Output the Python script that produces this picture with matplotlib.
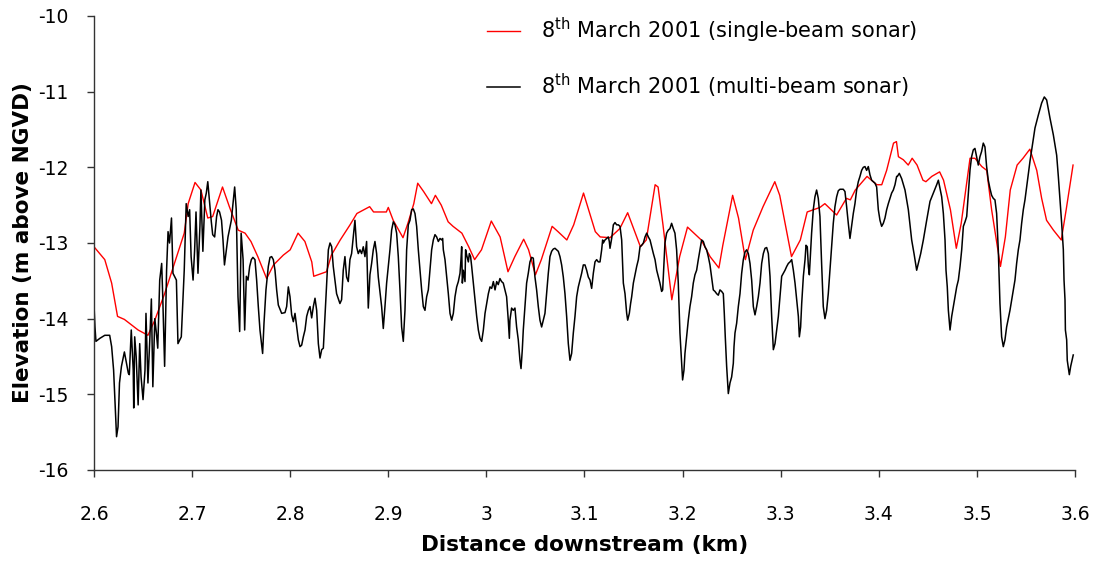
# perfil do leito: sonar de feixe simples vs multifeixe (8 marco 2001)
import matplotlib
matplotlib.use("Agg")
import matplotlib.pyplot as plt
from matplotlib.ticker import MultipleLocator, FormatStrFormatter

plt.rcParams["axes.unicode_minus"] = False
plt.rcParams["font.family"] = "DejaVu Sans"

# sonar de feixe simples (km, m acima do NGVD)
sb_km = [2.600, 2.611, 2.618, 2.624, 2.631, 2.645, 2.655, 2.662, 2.672, 2.682,
         2.692, 2.696, 2.703, 2.709, 2.716, 2.721, 2.731, 2.738, 2.747, 2.754,
         2.760, 2.767, 2.776, 2.783, 2.793, 2.800, 2.808, 2.815, 2.822, 2.824,
         2.837, 2.842, 2.851, 2.861, 2.868, 2.881, 2.885, 2.898, 2.900, 2.905,
         2.915, 2.920, 2.926, 2.930, 2.936, 2.944, 2.948, 2.954, 2.961, 2.966,
         2.975, 2.982, 2.988, 2.995, 3.005, 3.014, 3.022, 3.029, 3.038, 3.043,
         3.050, 3.056, 3.067, 3.073, 3.082, 3.089, 3.099, 3.111, 3.116, 3.126,
         3.136, 3.144, 3.157, 3.163, 3.172, 3.175, 3.180, 3.189, 3.197, 3.205,
         3.219, 3.228, 3.237, 3.241, 3.251, 3.257, 3.264, 3.272, 3.282, 3.294,
         3.299, 3.311, 3.320, 3.327, 3.340, 3.345, 3.357, 3.367, 3.371, 3.376,
         3.388, 3.398, 3.403, 3.408, 3.415, 3.418, 3.420, 3.425, 3.430, 3.434,
         3.439, 3.445, 3.448, 3.454, 3.462, 3.466, 3.473, 3.479, 3.484, 3.493,
         3.498, 3.505, 3.510, 3.515, 3.524, 3.529, 3.534, 3.541, 3.547, 3.554,
         3.561, 3.566, 3.571, 3.578, 3.586, 3.591, 3.598]
sb_elev = [-13.05, -13.22, -13.53, -13.97, -14.01, -14.15, -14.22, -14.02, -13.67, -13.27,
           -12.87, -12.48, -12.20, -12.30, -12.67, -12.65, -12.26, -12.52, -12.83, -12.87,
           -12.98, -13.18, -13.47, -13.29, -13.16, -13.09, -12.87, -12.98, -13.25, -13.44,
           -13.38, -13.16, -12.96, -12.76, -12.61, -12.52, -12.59, -12.59, -12.53, -12.70,
           -12.93, -12.74, -12.48, -12.21, -12.32, -12.48, -12.37, -12.50, -12.72, -12.78,
           -12.87, -13.05, -13.22, -13.09, -12.71, -12.92, -13.38, -13.18, -12.95, -13.09,
           -13.42, -13.22, -12.78, -12.85, -12.96, -12.76, -12.34, -12.85, -12.92, -12.93,
           -12.81, -12.60, -13.05, -12.96, -12.23, -12.26, -12.76, -13.75, -13.18, -12.79,
           -12.96, -13.18, -13.33, -13.03, -12.37, -12.67, -13.22, -12.83, -12.52, -12.19,
           -12.37, -13.18, -12.96, -12.59, -12.53, -12.48, -12.63, -12.41, -12.43, -12.30,
           -12.12, -12.23, -12.23, -12.04, -11.68, -11.66, -11.86, -11.90, -11.97, -11.88,
           -11.97, -12.17, -12.19, -12.12, -12.06, -12.17, -12.56, -13.07, -12.74, -11.88,
           -11.88, -11.99, -12.04, -12.56, -13.31, -12.92, -12.30, -11.97, -11.88, -11.76,
           -12.04, -12.41, -12.70, -12.83, -12.96, -12.56, -11.97]

# sonar multifeixe
mb_km = [2.6000, 2.6010, 2.6020, 2.6060, 2.6110, 2.6160, 2.6180, 2.6200, 2.6230, 2.6245,
         2.6260, 2.6280, 2.6310, 2.6350, 2.6360, 2.6380, 2.6400, 2.6405, 2.6415, 2.6430,
         2.6450, 2.6466, 2.6480, 2.6500, 2.6520, 2.6530, 2.6550, 2.6570, 2.6585, 2.6600,
         2.6620, 2.6636, 2.6650, 2.6670, 2.6690, 2.6700, 2.6720, 2.6740, 2.6755, 2.6770,
         2.6790, 2.6805, 2.6840, 2.6856, 2.6890, 2.6920, 2.6940, 2.6960, 2.6975, 2.6990,
         2.7010, 2.7026, 2.7040, 2.7060, 2.7080, 2.7090, 2.7110, 2.7130, 2.7145, 2.7160,
         2.7180, 2.7196, 2.7210, 2.7230, 2.7250, 2.7264, 2.7280, 2.7300, 2.7315, 2.7330,
         2.7350, 2.7366, 2.7400, 2.7434, 2.7450, 2.7468, 2.7485, 2.7500, 2.7520, 2.7536,
         2.7553, 2.7570, 2.7587, 2.7604, 2.7620,
         2.7641, 2.7658, 2.7675, 2.7692, 2.7719, 2.7733, 2.7753, 2.7777, 2.7794, 2.7811,
         2.7828, 2.7845, 2.7862, 2.7879, 2.7913, 2.7947, 2.7964, 2.7981, 2.7998, 2.8015,
         2.8032, 2.8049, 2.8066, 2.8083, 2.8100, 2.8117, 2.8134, 2.8151, 2.8168, 2.8185,
         2.8202, 2.8219, 2.8236, 2.8253, 2.8270, 2.8287, 2.8304, 2.8321, 2.8338, 2.8355,
         2.8372, 2.8389, 2.8406, 2.8423, 2.8439, 2.8473, 2.8507, 2.8524, 2.8541, 2.8558,
         2.8575, 2.8592, 2.8609, 2.8626, 2.8643, 2.8660, 2.8677, 2.8694, 2.8711, 2.8728,
         2.8745, 2.8762, 2.8779, 2.8796, 2.8813, 2.8830, 2.8847, 2.8864, 2.8881, 2.8898,
         2.8915, 2.8932, 2.8949, 2.8966, 2.8983, 2.9000, 2.9017, 2.9034, 2.9051, 2.9068,
         2.9085, 2.9102, 2.9119, 2.9136, 2.9153, 2.9170, 2.9187, 2.9204, 2.9221,
         2.9238, 2.9255, 2.9272, 2.9289, 2.9306, 2.9323, 2.9340, 2.9357, 2.9374, 2.9391,
         2.9408, 2.9425, 2.9442, 2.9459, 2.9476, 2.9493, 2.9510, 2.9527, 2.9544, 2.9554,
         2.9561, 2.9578, 2.9595, 2.9612, 2.9629, 2.9646, 2.9663, 2.9680, 2.9697, 2.9714,
         2.9731, 2.9741, 2.9748, 2.9755, 2.9765, 2.9782, 2.9788, 2.9799, 2.9816, 2.9826,
         2.9839, 2.9850, 2.9867, 2.9884, 2.9901, 2.9918, 2.9935, 2.9952, 2.9969, 2.9986,
         3.0003, 3.0020, 3.0037, 3.0054, 3.0071, 3.0088, 3.0105, 3.0121, 3.0138, 3.0155,
         3.0172, 3.0189, 3.0206, 3.0223, 3.0234, 3.0240, 3.0257, 3.0274, 3.0291, 3.0308,
         3.0325, 3.0342, 3.0353, 3.0366, 3.0376, 3.0393, 3.0410, 3.0427, 3.0444, 3.0461,
         3.0478, 3.0495, 3.0512, 3.0529, 3.0546, 3.0563, 3.0580, 3.0597, 3.0614, 3.0631,
         3.0648, 3.0665, 3.0682, 3.0699, 3.0716, 3.0733, 3.0750, 3.0767, 3.0784, 3.0801,
         3.0818, 3.0835, 3.0852, 3.0869, 3.0886, 3.0903, 3.0920, 3.0937, 3.0954,
         3.0971, 3.0988, 3.1005, 3.1022, 3.1039, 3.1056, 3.1073, 3.1090, 3.1107, 3.1124,
         3.1141, 3.1158, 3.1175, 3.1185, 3.1192, 3.1209, 3.1226, 3.1243, 3.1253, 3.1260,
         3.1277, 3.1294, 3.1311, 3.1328, 3.1345, 3.1362, 3.1379, 3.1389, 3.1396, 3.1413,
         3.1430, 3.1440, 3.1457, 3.1470, 3.1481, 3.1498, 3.1515, 3.1532, 3.1549, 3.1566,
         3.1583, 3.1600, 3.1617, 3.1634, 3.1651, 3.1668, 3.1685, 3.1702, 3.1719, 3.1736,
         3.1753, 3.1769, 3.1786, 3.1797, 3.1803, 3.1820, 3.1837, 3.1854, 3.1871, 3.1888,
         3.1905, 3.1922, 3.1939, 3.1956, 3.1973, 3.1990, 3.2000, 3.2014, 3.2024, 3.2041,
         3.2058, 3.2075, 3.2092, 3.2109, 3.2126, 3.2143, 3.2160, 3.2177, 3.2194, 3.2211,
         3.2228, 3.2245, 3.2262, 3.2279, 3.2296, 3.2313, 3.2330, 3.2347, 3.2364, 3.2381,
         3.2398, 3.2415, 3.2425, 3.2435, 3.2449, 3.2466, 3.2483, 3.2500, 3.2517, 3.2524,
         3.2534, 3.2551, 3.2568, 3.2585,
         3.2602, 3.2619, 3.2636, 3.2653, 3.2670, 3.2687, 3.2704, 3.2721, 3.2738, 3.2755,
         3.2772, 3.2789, 3.2806, 3.2823, 3.2840, 3.2857, 3.2874, 3.2891, 3.2908, 3.2925,
         3.2942, 3.2959, 3.2976, 3.2993, 3.3010, 3.3027, 3.3044, 3.3061, 3.3078, 3.3095,
         3.3112, 3.3129, 3.3146, 3.3163, 3.3180, 3.3190, 3.3203, 3.3214, 3.3231, 3.3248,
         3.3258, 3.3271, 3.3282, 3.3292, 3.3298, 3.3315, 3.3332, 3.3349, 3.3366, 3.3383,
         3.3400, 3.3417, 3.3434, 3.3451, 3.3468, 3.3485, 3.3502, 3.3519, 3.3536, 3.3553,
         3.3570, 3.3587, 3.3604, 3.3638, 3.3655, 3.3672, 3.3689, 3.3706, 3.3723, 3.3740,
         3.3757, 3.3774, 3.3791, 3.3808, 3.3825, 3.3842, 3.3859, 3.3876, 3.3893, 3.3910,
         3.3927, 3.3944, 3.3961, 3.3978, 3.3995, 3.4012, 3.4029, 3.4046, 3.4063, 3.4080,
         3.4097, 3.4114, 3.4131, 3.4148, 3.4165, 3.4182,
         3.4189, 3.4209, 3.4233, 3.4267, 3.4301, 3.4335, 3.4359, 3.4386, 3.4403, 3.4427,
         3.4454, 3.4488, 3.4522, 3.4556, 3.4590, 3.4607, 3.4624, 3.4641, 3.4658, 3.4675,
         3.4685, 3.4698, 3.4709, 3.4726, 3.4743, 3.4760, 3.4777, 3.4794, 3.4811, 3.4828,
         3.4845, 3.4862, 3.4879, 3.4896, 3.4913, 3.4930, 3.4946, 3.4963, 3.4980, 3.4997,
         3.5014, 3.5031, 3.5048, 3.5065, 3.5082, 3.5099, 3.5116, 3.5133, 3.5150, 3.5167,
         3.5184, 3.5201, 3.5218, 3.5235, 3.5252, 3.5269, 3.5286, 3.5303, 3.5337, 3.5371,
         3.5388, 3.5405, 3.5422, 3.5439, 3.5456, 3.5473, 3.5490, 3.5507, 3.5524, 3.5541,
         3.5592, 3.5626, 3.5660, 3.5687, 3.5711, 3.5745, 3.5779, 3.5813, 3.5830, 3.5847,
         3.5864, 3.5881, 3.5888, 3.5898, 3.5902, 3.5915, 3.5921, 3.5942, 3.5956, 3.5982]
mb_elev = [-13.82, -14.11, -14.30, -14.26, -14.22, -14.22, -14.37, -14.68, -15.56, -15.43,
           -14.85, -14.63, -14.44, -14.72, -14.74, -14.15, -14.68, -15.18, -14.24, -14.50,
           -15.14, -14.33, -14.77, -15.07, -14.68, -13.93, -14.85, -14.24, -13.74, -14.90,
           -14.00, -14.19, -14.39, -13.49, -13.27, -13.67, -14.63, -13.36, -12.85, -13.00,
           -12.67, -13.40, -13.49, -14.33, -14.24, -13.36, -12.48, -12.65, -12.56, -13.18,
           -13.49, -13.09, -12.59, -13.40, -12.78, -12.30, -13.11, -12.43, -12.34, -12.19,
           -12.48, -12.72, -12.89, -12.92, -12.65, -12.56, -12.59, -12.70, -12.96, -13.29,
           -13.09, -12.92, -12.70, -12.26, -12.56, -13.71, -14.17, -12.87, -13.22, -14.15,
           -13.44, -13.49, -13.31, -13.22, -13.19,
           -13.22, -13.49, -13.84, -14.15, -14.46, -14.06, -13.62, -13.31, -13.19, -13.18,
           -13.22, -13.36, -13.62, -13.82, -13.93, -13.92, -13.84, -13.58, -13.71, -13.95,
           -14.04, -13.93, -14.11, -14.28, -14.37, -14.35, -14.24, -14.15, -13.97, -13.89,
           -13.84, -13.99, -13.84, -13.73, -13.89, -14.33, -14.52, -14.41, -14.39, -13.97,
           -13.53, -13.09, -13.00, -13.05, -13.31, -13.67, -13.80, -13.75, -13.36, -13.18,
           -13.45, -13.51, -13.22, -13.14, -12.92, -12.70, -13.05, -13.14, -13.09, -13.14,
           -13.05, -13.18, -12.98, -13.86, -13.42, -13.27, -13.09, -12.98, -13.14, -13.45,
           -13.64, -13.84, -14.13, -13.84, -13.53, -13.31, -13.09, -12.83, -12.72, -12.76,
           -12.87, -13.18, -13.62, -14.11, -14.30, -13.89, -13.09, -12.76, -12.70,
           -12.56, -12.55, -12.61, -12.78, -13.09, -13.36, -13.62, -13.84, -13.89, -13.71,
           -13.62, -13.36, -13.09, -12.96, -12.89, -12.92, -12.98, -12.94, -12.96, -12.94,
           -13.09, -13.22, -13.45, -13.67, -13.93, -14.02, -13.93, -13.71, -13.58, -13.51,
           -13.40, -13.22, -13.05, -13.53, -13.36, -13.51, -13.09, -13.16, -13.25, -13.14,
           -13.18, -13.31, -13.53, -13.75, -13.97, -14.15, -14.26, -14.30, -14.15, -13.93,
           -13.80, -13.67, -13.58, -13.60, -13.51, -13.62, -13.51, -13.55, -13.47, -13.51,
           -13.53, -13.62, -13.71, -14.02, -14.26, -14.02, -13.86, -13.89, -13.86, -14.11,
           -14.28, -14.55, -14.66, -14.41, -14.15, -13.84, -13.53, -13.40, -13.25, -13.19,
           -13.20, -13.45, -13.62, -13.84, -14.02, -14.11, -14.02, -13.93, -13.67, -13.40,
           -13.18, -13.11, -13.08, -13.07, -13.09, -13.11, -13.18, -13.29, -13.45, -13.67,
           -13.97, -14.33, -14.55, -14.46, -14.19, -13.97, -13.71, -13.58, -13.49,
           -13.40, -13.29, -13.29, -13.36, -13.45, -13.49, -13.60, -13.40, -13.25, -13.22,
           -13.25, -13.25, -13.09, -12.96, -13.00, -12.96, -12.94, -12.92, -12.98, -13.07,
           -12.94, -12.76, -12.73, -12.76, -12.76, -12.78, -12.96, -13.31, -13.53, -13.67,
           -13.93, -14.02, -13.93, -13.80, -13.71, -13.53, -13.42, -13.31, -13.22, -13.05,
           -13.03, -13.00, -12.92, -12.87, -12.92, -12.96, -13.05, -13.14, -13.22, -13.36,
           -13.45, -13.53, -13.64, -13.62, -13.45, -13.00, -12.87, -12.83, -12.81, -12.74,
           -12.81, -12.87, -13.09, -13.53, -14.19, -14.59, -14.81, -14.68, -14.46, -14.24,
           -14.02, -13.84, -13.71, -13.53, -13.42, -13.36, -13.22, -13.09, -12.96, -12.98,
           -13.05, -13.09, -13.18, -13.29, -13.45, -13.62, -13.64, -13.67, -13.69, -13.62,
           -13.64, -13.67, -13.93, -14.24, -14.63, -14.99, -14.85, -14.77, -14.59, -14.37,
           -14.19, -14.06, -13.84, -13.67,
           -13.40, -13.22, -13.12, -13.09, -13.14, -13.27, -13.49, -13.84, -13.95, -13.84,
           -13.71, -13.53, -13.27, -13.14, -13.07, -13.06, -13.14, -13.44, -13.97, -14.41,
           -14.33, -14.15, -13.97, -13.71, -13.44, -13.40, -13.36, -13.31, -13.27, -13.25,
           -13.22, -13.36, -13.53, -13.75, -13.97, -14.24, -14.11, -13.80, -13.44, -13.22,
           -13.03, -13.05, -13.31, -13.42, -13.27, -12.87, -12.56, -12.39, -12.30, -12.41,
           -12.65, -13.27, -13.84, -14.00, -13.89, -13.67, -13.36, -13.05, -12.74, -12.52,
           -12.39, -12.31, -12.29, -12.29, -12.32, -12.52, -12.74, -12.94, -12.78, -12.61,
           -12.48, -12.30, -12.19, -12.12, -12.04, -12.00, -11.99, -12.04, -11.99, -12.10,
           -12.17, -12.19, -12.21, -12.26, -12.56, -12.70, -12.78, -12.74, -12.67, -12.56,
           -12.48, -12.41, -12.34, -12.30, -12.23, -12.12,
           -12.12, -12.08, -12.15, -12.30, -12.56, -12.96, -13.14, -13.36, -13.27, -13.14,
           -12.96, -12.70, -12.45, -12.34, -12.23, -12.17, -12.28, -12.39, -12.61, -12.96,
           -13.36, -13.58, -13.89, -14.15, -13.97, -13.84, -13.71, -13.58, -13.49, -13.31,
           -13.09, -12.78, -12.72, -12.65, -12.34, -12.03, -11.86, -11.77, -11.75, -11.86,
           -11.97, -11.86, -11.79, -11.68, -11.73, -11.99, -12.17, -12.28, -12.37, -12.41,
           -12.43, -12.61, -13.09, -13.80, -14.24, -14.37, -14.28, -14.11, -13.89, -13.62,
           -13.49, -13.27, -13.09, -12.96, -12.74, -12.56, -12.43, -12.26, -12.08, -11.92,
           -11.48, -11.31, -11.15, -11.07, -11.11, -11.35, -11.57, -11.84, -12.12, -12.43,
           -12.74, -13.09, -13.49, -13.75, -14.15, -14.28, -14.55, -14.74, -14.63, -14.48]

fig = plt.figure(figsize=(11.07, 5.63), dpi=100)
ax = fig.add_axes([0.0849, 0.1652, 0.8862, 0.8064])

ax.plot(sb_km, sb_elev, color="#ff0000", linewidth=1.0,
        label=r"8$^{\rm th}$ March 2001 (single-beam sonar)")
ax.plot(mb_km, mb_elev, color="black", linewidth=1.1,
        label=r"8$^{\rm th}$ March 2001 (multi-beam sonar)")

ax.set_xlim(2.6, 3.6)
ax.set_ylim(-16, -10)
ax.xaxis.set_major_locator(MultipleLocator(0.1))
ax.xaxis.set_major_formatter(FormatStrFormatter("%g"))
ax.yaxis.set_major_locator(MultipleLocator(1))

for lado in ["top", "right"]:
    ax.spines[lado].set_visible(False)
for lado in ["left", "bottom"]:
    ax.spines[lado].set_linewidth(1.0)
    ax.spines[lado].set_color("#333333")

ax.tick_params(axis="both", direction="out", length=5, width=1.0,
               color="#333333", labelsize=13.5)
ax.tick_params(axis="x", pad=20)
ax.tick_params(axis="y", pad=13)

ax.set_xlabel("Distance downstream (km)", fontsize=15.5, fontweight="bold")
ax.set_ylabel("Elevation (m above NGVD)", fontsize=15.5, fontweight="bold")
ax.xaxis.set_label_coords(0.5, -0.143)
ax.yaxis.set_label_coords(-0.062, 0.5)

fig.legend(loc="upper left", bbox_to_anchor=(0.44, 0.972), frameon=False,
           fontsize=15, handlelength=1.6, handletextpad=1.0,
           labelspacing=1.3, borderpad=0, borderaxespad=0)

fig.savefig("out.png", dpi=100)
